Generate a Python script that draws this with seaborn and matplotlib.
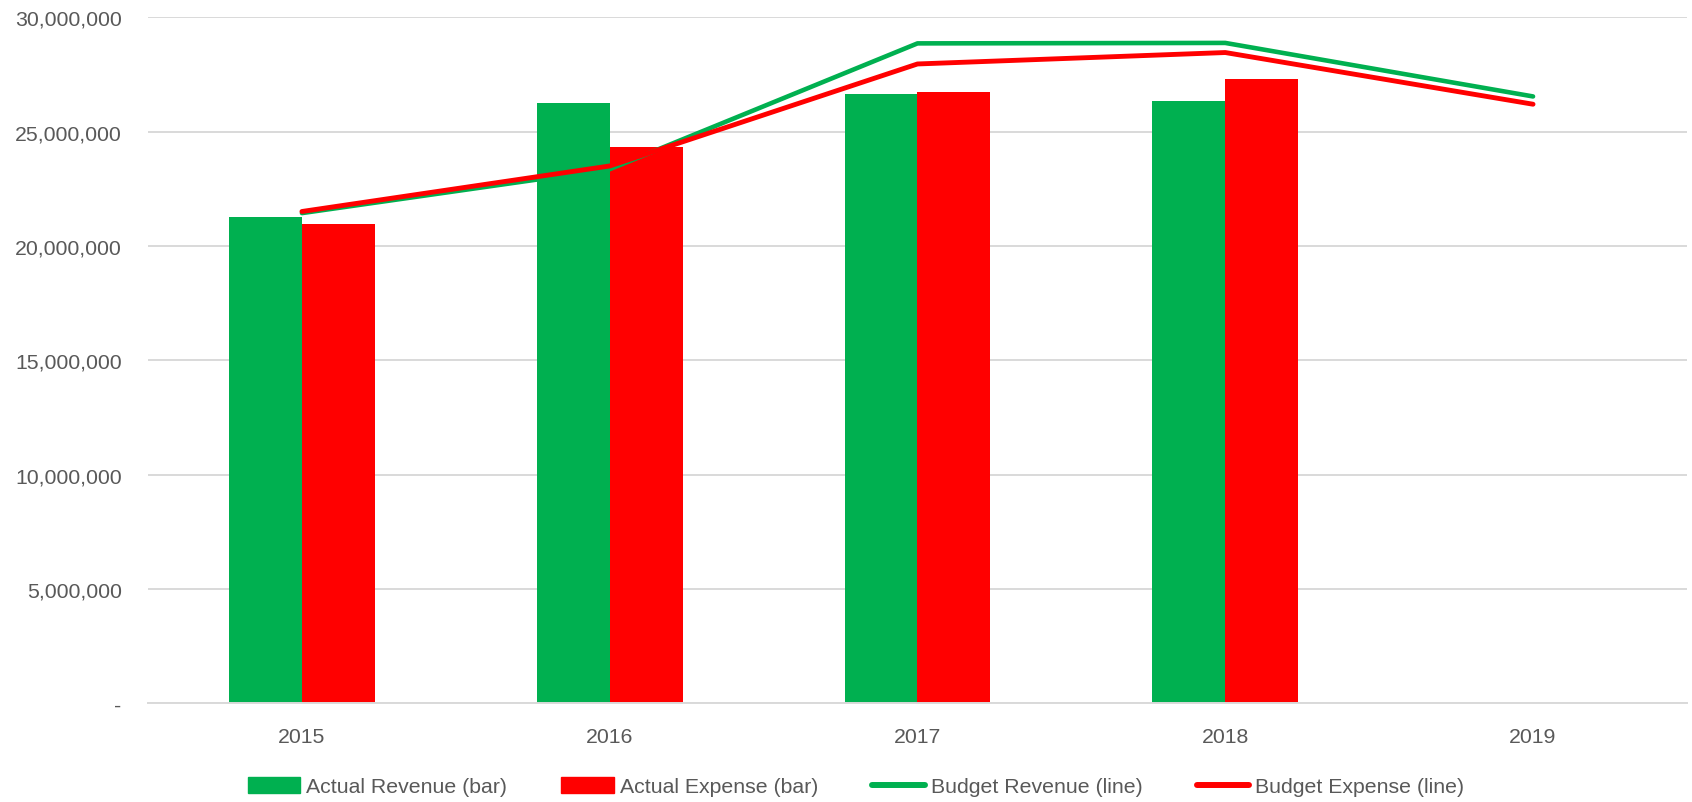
import numpy as np
import pandas as pd
import seaborn as sns
import matplotlib.pyplot as plt
from matplotlib.ticker import FuncFormatter
from matplotlib.patches import Patch
from matplotlib.lines import Line2D

# values
years = ['2015', '2016', '2017', '2018', '2019']
actual_revenue = [21250000, 26250000, 26650000, 26350000, np.nan]
actual_expense = [20970000, 24350000, 26730000, 27290000, np.nan]
budget_revenue = [21440000, 23360000, 28860000, 28880000, 26540000]
budget_expense = [21510000, 23500000, 27960000, 28460000, 26200000]

GREEN = '#00B050'
RED = '#FF0000'
GRID = '#D9D9D9'
TEXT = '#595959'

sns.set_style('white')
plt.rcParams['font.family'] = ['Liberation Sans', 'DejaVu Sans']

bars = pd.DataFrame({
    'year': years * 2,
    'value': actual_revenue + actual_expense,
    'kind': ['Actual Revenue (bar)'] * len(years) + ['Actual Expense (bar)'] * len(years),
})
budget = pd.DataFrame({'year': years, 'rev': budget_revenue, 'exp': budget_expense})

fig = plt.figure(figsize=(16.92, 8.03), dpi=100)
ax = fig.add_axes([0.0875, 0.1227, 0.9095, 0.8545])

sns.barplot(data=bars, x='year', y='value', hue='kind', order=years,
            palette=[GREEN, RED], width=0.474, linewidth=0, errorbar=None,
            saturation=1, legend=False, ax=ax, zorder=2)
sns.lineplot(data=budget, x='year', y='rev', color=GREEN, linewidth=3.3,
             sort=False, ax=ax, zorder=3, solid_capstyle='round')
sns.lineplot(data=budget, x='year', y='exp', color=RED, linewidth=3.5,
             sort=False, ax=ax, zorder=4, solid_capstyle='round')

ax.set_xlim(-0.5, len(years) - 0.5)
ax.set_ylim(0, 30000000)
ax.set_yticks(np.arange(0, 30000001, 5000000))
ax.yaxis.set_major_formatter(FuncFormatter(lambda v, p: '-' if v == 0 else f'{int(v):,}'))
ax.grid(axis='y', color=GRID, linewidth=1.4, zorder=0)
ax.set_axisbelow(True)
for s in ['top', 'right', 'left']:
    ax.spines[s].set_visible(False)
ax.spines['bottom'].set_color(GRID)
ax.spines['bottom'].set_linewidth(1.4)
ax.tick_params(axis='both', length=0, labelsize=15.3, labelcolor=TEXT)
ax.tick_params(axis='x', pad=17)
ax.tick_params(axis='y', pad=19)
ax.set_xlabel('')
ax.set_ylabel('')

handles = [
    Patch(color=GREEN, label='Actual Revenue (bar)'),
    Patch(color=RED, label='Actual Expense (bar)'),
    Line2D([], [], color=GREEN, linewidth=4.3, solid_capstyle='round', label='Budget Revenue (line)'),
    Line2D([], [], color=RED, linewidth=4.3, solid_capstyle='round', label='Budget Expense (line)'),
]
fig.legend(handles=handles, loc='center', bbox_to_anchor=(0.506, 0.019), ncol=4,
           frameon=False, fontsize=15.3, labelcolor=TEXT, handlelength=2.45,
           handleheight=0.75, handletextpad=0.3, columnspacing=2.55)

fig.savefig('out.png', dpi=100)
